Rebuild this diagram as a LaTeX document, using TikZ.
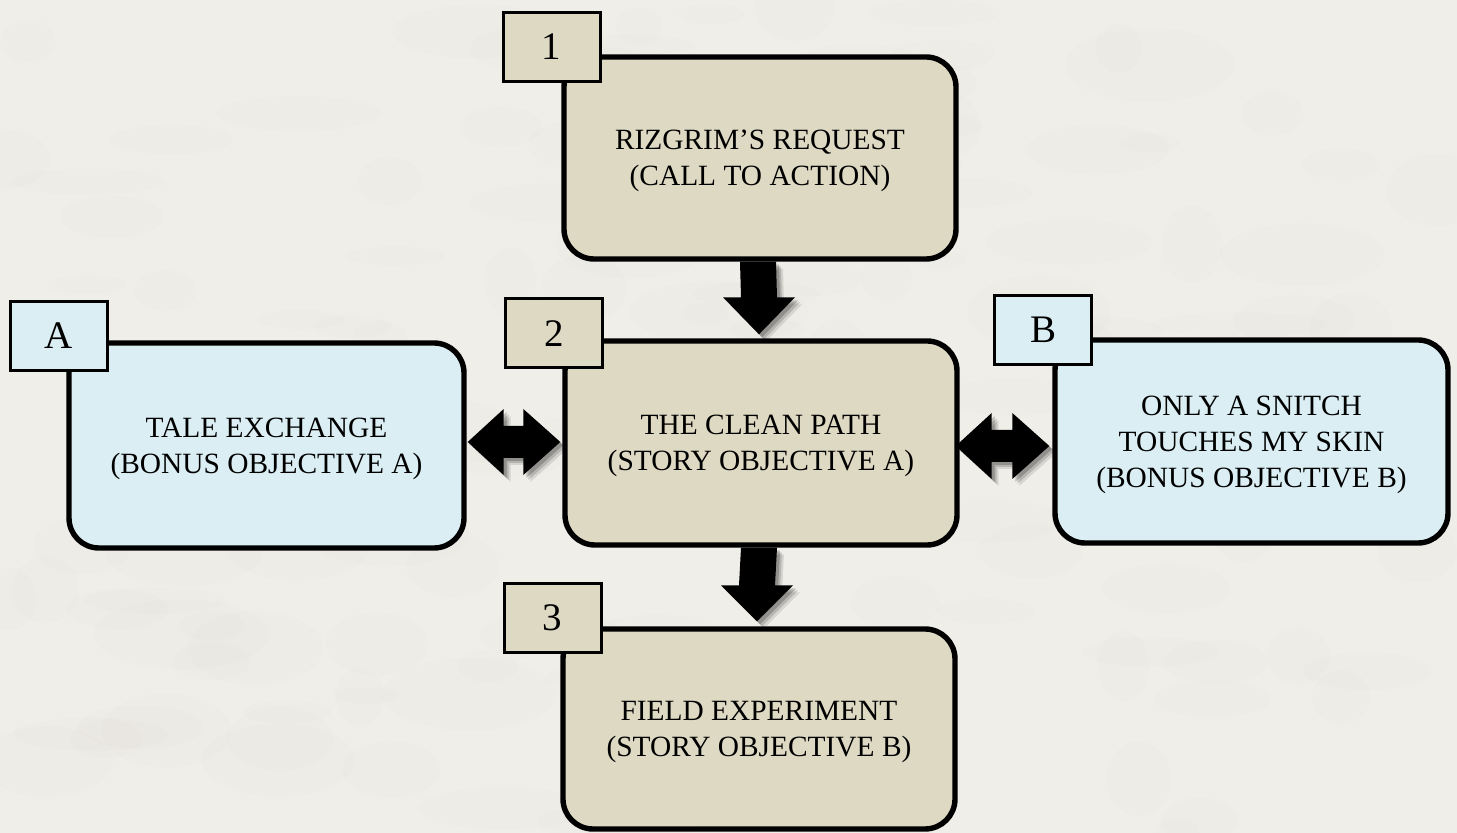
\documentclass[tikz,border=0pt]{standalone}
\usepackage{fontspec}
\setmainfont{Liberation Serif}
\usetikzlibrary{calc,shadows}
\definecolor{bgpaper}{HTML}{F0EEE9}
\definecolor{bgvein}{HTML}{DCD8D0}
\definecolor{tanfill}{HTML}{DDD9C3}
\definecolor{bluefill}{HTML}{DAEEF3}
\tikzset{
  bigbox/.style={draw=black, line width=2.7pt, rounded corners=15pt, inner sep=0pt,
    align=center, text depth=0pt, font=\fontsize{14.7}{18}\selectfont},
  tanbox/.style={bigbox, fill=tanfill},
  bluebox/.style={bigbox, fill=bluefill},
  tagbox/.style={draw=black, line width=1.5pt, inner sep=0pt,
    minimum width=48.5pt, minimum height=34.5pt,
    font=\fontsize{19.5}{22}\selectfont, text height=13pt, text depth=0pt},
  blockarrow/.style={fill=black,
    preaction={fill=black, opacity=0.10, transform canvas={shift={(3.5pt,-3.5pt)}}},
    preaction={fill=black, opacity=0.15, transform canvas={shift={(2.5pt,-2.5pt)}}},
    preaction={fill=black, opacity=0.20, transform canvas={shift={(1.5pt,-1.5pt)}}}}
}
\begin{document}
\begin{tikzpicture}[x=0.5pt, y=-0.5pt]
\fill[bgpaper] (0,0) rectangle (1457,833);
\useasboundingbox (0,0) rectangle (1457,833);
% subtle paper mottling
\pgfmathsetseed{7}
\foreach \i in {1,...,140}{
  \pgfmathsetmacro{\px}{rnd*1457}
  \pgfmathsetmacro{\py}{rnd*833}
  \pgfmathsetmacro{\rx}{20+rnd*70}
  \pgfmathsetmacro{\ry}{8+rnd*30}
  \fill[bgvein, opacity=0.07] (\px,\py) ellipse [x radius=\rx, y radius=\ry];
}

% main boxes
\node[tanbox, minimum width=196pt, minimum height=101pt] (b1) at (760,158)
  {RIZGRIM’S REQUEST\\(CALL TO ACTION)};
\node[tanbox, minimum width=196pt, minimum height=102pt] (b2) at (761,443)
  {THE CLEAN PATH\\(STORY OBJECTIVE A)};
\node[tanbox, minimum width=196pt, minimum height=100pt] (b3) at (759,729)
  {FIELD EXPERIMENT\\(STORY OBJECTIVE B)};
\node[bluebox, minimum width=197.5pt, minimum height=102.5pt] (bA) at (266.5,445.5)
  {TALE EXCHANGE\\(BONUS OBJECTIVE A)};
\node[bluebox, minimum width=196.5pt, minimum height=101.5pt] (bB) at (1251.5,441.5)
  {ONLY A SNITCH\\TOUCHES MY SKIN\\(BONUS OBJECTIVE B)};

% number / letter tags
\node[tagbox, fill=tanfill] (l1) at (551.5,47) {1};
\node[tagbox, fill=tanfill] (l2) at (554,333.5) {2};
\node[tagbox, fill=tanfill] (l3) at (552.5,618) {3};
\node[tagbox, fill=bluefill] (lA) at (58.5,336) {A};
\node[tagbox, fill=bluefill] (lB) at (1043,330) {B};

% down arrow 1 -> 2
\fill[blockarrow] ($(b1.south)+(-20,0)$) -- ($(b2.north)+(-20,-41)$)
  -- ($(b2.north)+(-38,-41)$) -- ($(b2.north)+(-2,-4)$)
  -- ($(b2.north)+(34,-41)$) -- ($(b2.north)+(16,-41)$)
  -- ($(b1.south)+(16,0)$) -- cycle;

% down arrow 2 -> 3
\fill[blockarrow] ($(b2.south)+(-20,0)$) -- ($(b3.north)+(-20,-41)$)
  -- ($(b3.north)+(-38,-41)$) -- ($(b3.north)+(-2,-5)$)
  -- ($(b3.north)+(34,-41)$) -- ($(b3.north)+(16,-41)$)
  -- ($(b2.south)+(16,0)$) -- cycle;

% double arrow A <-> 2
\coordinate (aL) at ($(bA.east |- b2.west)+(1,-1)$);
\coordinate (aR) at ($(b2.west)+(-2,-1)$);
\fill[blockarrow] (aL) -- ++(36,-33) -- ++(0,17) -- ($(aR)+(-37,-16)$)
  -- ++(0,-17) -- (aR) -- ++(-37,33) -- ++(0,-17) -- ($(aL)+(36,16)$)
  -- ++(0,17) -- cycle;

% double arrow 2 <-> B
\coordinate (bL) at ($(b2.east)+(-4,3)$);
\coordinate (bR) at ($(bB.west |- b2.east)+(-3,3)$);
\fill[blockarrow] (bL) -- ++(36,-33) -- ++(0,17) -- ($(bR)+(-37,-16)$)
  -- ++(0,-17) -- (bR) -- ++(-37,33) -- ++(0,-17) -- ($(bL)+(36,16)$)
  -- ++(0,17) -- cycle;
\end{tikzpicture}
\end{document}
